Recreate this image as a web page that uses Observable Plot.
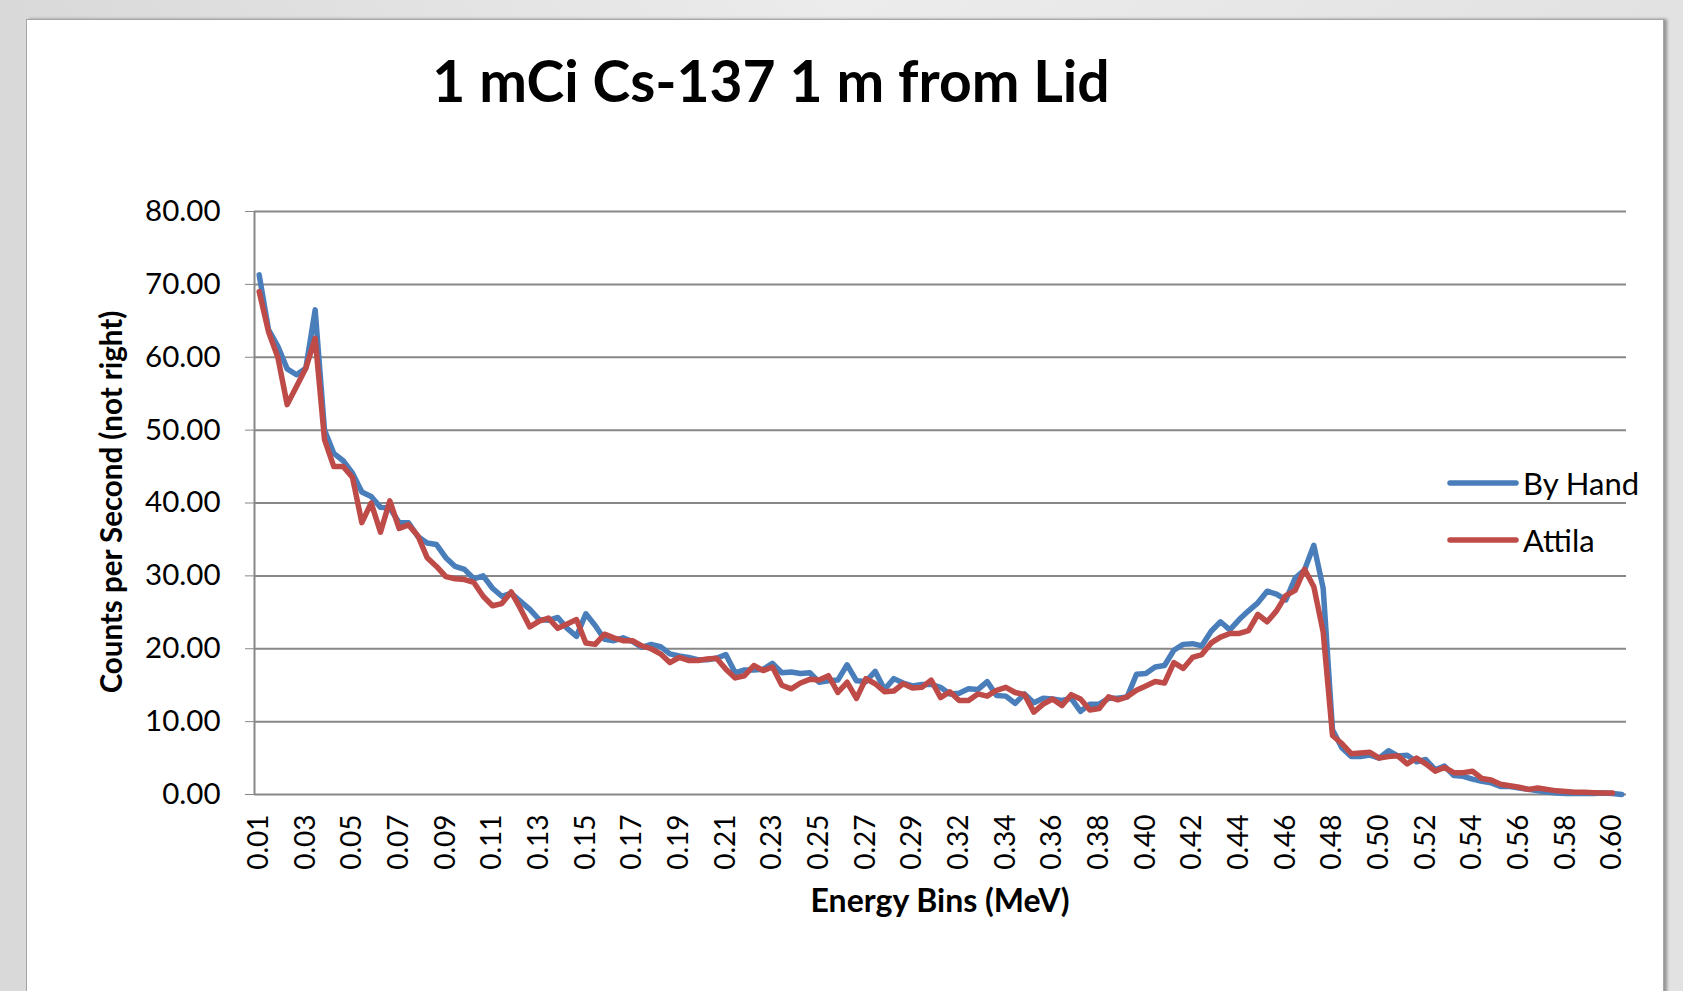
<!DOCTYPE html>
<html>
<head>
<meta charset="utf-8">
<script src="https://cdn.jsdelivr.net/npm/d3@7"></script>
<script src="https://cdn.jsdelivr.net/npm/@observablehq/plot@0.6"></script>
<style>
  html, body { margin: 0; padding: 0; }
  body {
    width: 1683px; height: 991px; overflow: hidden; position: relative;
    background: linear-gradient(to right, #d9d9d9, #ececec 50%, #e2e2e2);
    font-family: Lato, "Open Sans", sans-serif;
  }
  #panel {
    position: absolute; left: 26px; top: 19px; width: 1636px; height: 1000px;
    background: #fff; border: 1px solid #a6a6a6;
    box-shadow: 3px 0 3px rgba(0,0,0,0.35);
  }
  #title {
    position: absolute; left: 0; width: 1542px; top: 46px; text-align: center;
    font-weight: 700; font-size: 57px; line-height: 68px; color: #000;
  }
  #chart { position: absolute; left: 0; top: 150px; }
  #ylabel {
    position: absolute; left: 110px; top: 502px; transform: translate(-50%, -50%) rotate(-90deg);
    font-weight: 700; font-size: 29.5px; white-space: nowrap; color: #000;
  }
  #xlabel {
    position: absolute; left: 940px; top: 899px; transform: translate(-50%, -50%);
    font-weight: 700; font-size: 32px; white-space: nowrap; color: #000;
  }
  .leg { position: absolute; left: 1447px; display: flex; align-items: center; font-size: 31px; color: #000; }
  .leg svg { margin-right: 4px; }
</style>
</head>
<body>
<div id="panel"></div>
<div id="title">1 mCi Cs-137 1 m from Lid</div>
<div id="chart"></div>
<div id="ylabel">Counts per Second (not right)</div>
<div id="xlabel">Energy Bins (MeV)</div>
<div id="legend"></div>
<script>
// Series values (counts per second), one value per energy bin
const byHand = [
  71.3, 63.8, 61.5, 58.4, 57.6, 58.5, 66.5, 50.0, 46.8, 45.8,
  44.1, 41.5, 40.9, 39.4, 39.3, 37.3, 37.3, 35.4, 34.5, 34.3,
  32.5, 31.3, 30.9, 29.6, 30.0, 28.3, 27.2, 27.6, 26.5, 25.4,
  24.0, 23.9, 24.3, 22.8, 21.7, 24.8, 23.2, 21.3, 21.1, 21.5,
  21.0, 20.2, 20.6, 20.3, 19.3, 19.0, 18.8, 18.5, 18.5, 18.7,
  19.2, 16.7, 17.1, 17.1, 17.2, 18.0, 16.7, 16.8, 16.6, 16.7,
  15.4, 15.6, 15.7, 17.8, 15.6, 15.5, 16.9, 14.4, 15.9, 15.3,
  14.9, 15.1, 15.1, 14.7, 13.8, 13.9, 14.5, 14.4, 15.5, 13.6,
  13.5, 12.5, 13.8, 12.6, 13.2, 13.1, 12.9, 13.2, 11.4, 12.4,
  12.4, 13.2, 13.2, 13.4, 16.5, 16.6, 17.5, 17.7, 19.8, 20.6,
  20.7, 20.4, 22.4, 23.7, 22.6, 24.0, 25.2, 26.3, 27.9, 27.5,
  26.7, 29.7, 30.8, 34.2, 28.3, 8.9, 6.4, 5.2, 5.2, 5.4,
  5.0, 6.0, 5.3, 5.4, 4.5, 4.8, 3.4, 3.9, 2.6, 2.5,
  2.1, 1.8, 1.6, 1.1, 1.1, 0.9, 0.7, 0.5, 0.35, 0.2,
  0.15, 0.15, 0.15, 0.15, 0.2, 0.15, 0.0
];
const attila = [
  69.0, 63.5, 60.0, 53.5, 56.0, 58.5, 62.6, 48.7, 45.0, 45.0,
  43.5, 37.3, 40.0, 36.0, 40.3, 36.5, 37.0, 35.5, 32.5, 31.3,
  29.9, 29.6, 29.5, 29.1, 27.2, 25.9, 26.2, 27.8, 25.5, 23.0,
  23.8, 24.2, 22.8, 23.4, 24.0, 20.8, 20.6, 22.0, 21.5, 21.1,
  21.1, 20.4, 20.0, 19.3, 18.1, 18.8, 18.4, 18.4, 18.6, 18.7,
  17.2, 16.0, 16.3, 17.7, 17.0, 17.5, 15.0, 14.5, 15.3, 15.8,
  15.7, 16.3, 14.0, 15.4, 13.2, 15.9, 15.2, 14.1, 14.2, 15.2,
  14.6, 14.7, 15.7, 13.3, 14.1, 12.9, 12.9, 13.8, 13.5, 14.3,
  14.7, 14.0, 13.7, 11.3, 12.4, 13.1, 12.2, 13.7, 13.1, 11.6,
  11.8, 13.4, 13.0, 13.4, 14.3, 14.9, 15.5, 15.3, 18.1, 17.3,
  18.8, 19.2, 20.8, 21.6, 22.1, 22.1, 22.5, 24.7, 23.7, 25.2,
  27.3, 28.0, 30.9, 28.5, 22.3, 8.1, 7.0, 5.6, 5.7, 5.8,
  5.0, 5.2, 5.3, 4.2, 5.0, 4.2, 3.2, 3.7, 3.0, 3.0,
  3.2, 2.2, 2.0, 1.4, 1.2, 1.0, 0.7, 0.9, 0.7, 0.5,
  0.4, 0.3, 0.3, 0.25, 0.2, 0.2
];
// Category tick labels (every 5th bin is labelled)
const tickLabels = [
  "0.01","0.03","0.05","0.07","0.09","0.11","0.13","0.15","0.17","0.19",
  "0.21","0.23","0.25","0.27","0.29","0.32","0.34","0.36","0.38","0.40",
  "0.42","0.44","0.46","0.48","0.50","0.52","0.54","0.56","0.58","0.60"
];
const labelEvery = 5;
const yTicks = [0, 10, 20, 30, 40, 50, 60, 70, 80];
const seriesNames = ["By Hand", "Attila"];
const seriesColors = ["#4a7ebb", "#be4b48"];

const rows = [];
byHand.forEach((v, i) => rows.push({bin: i, value: v, series: seriesNames[0]}));
attila.forEach((v, i) => rows.push({bin: i, value: v, series: seriesNames[1]}));
const xTicks = tickLabels.map((_, j) => j * labelEvery);
const nBins = byHand.length;

const chart = Plot.plot({
  width: 1683,
  height: 760,
  marginLeft: 254,
  marginRight: 57,
  marginTop: 61,
  marginBottom: 116,
  style: {fontFamily: "Lato, 'Open Sans', sans-serif", fontSize: "28px", color: "#000", background: "transparent", overflow: "visible"},
  x: {domain: [-0.5, nBins - 0.5]},
  y: {domain: [0, 80]},
  color: {domain: seriesNames, range: seriesColors},
  marks: [
    Plot.gridY(yTicks, {stroke: "#878787", strokeOpacity: 1, strokeWidth: 2}),
    Plot.ruleX([-0.5], {stroke: "#878787", strokeWidth: 2}),
    Plot.axisY(yTicks, {tickSize: 9, tickPadding: 25, fontSize: 29.5, tickFormat: d3.format(".2f"), label: null, stroke: "#878787", fill: "#000"}),
    Plot.axisX(xTicks, {tickRotate: -90, tickSize: 0, tickPadding: 20, fontSize: 28, tickFormat: (i) => tickLabels[i / labelEvery], label: null, fill: "#000"}),
    Plot.lineY(rows, {x: "bin", y: "value", z: "series", stroke: "series", strokeWidth: 5.5, strokeLinejoin: "round", strokeLinecap: "round"})
  ]
});
document.getElementById("chart").appendChild(chart);

// Legend
const legend = document.getElementById("legend");
const legendTops = [483, 540];
seriesNames.forEach((name, k) => {
  const div = document.createElement("div");
  div.className = "leg";
  div.style.top = (legendTops[k] - 20) + "px";
  div.innerHTML = `<svg width="72" height="40"><line x1="3" x2="69" y1="20" y2="20" stroke="${seriesColors[k]}" stroke-width="5.5" stroke-linecap="round"/></svg><span>${name}</span>`;
  legend.appendChild(div);
});
</script>
</body>
</html>
